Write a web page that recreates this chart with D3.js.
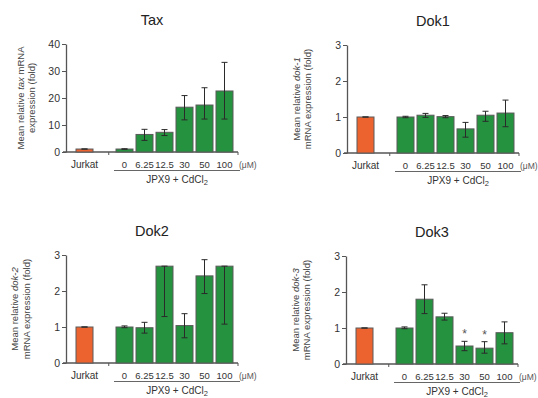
<!DOCTYPE html>
<head>
  <meta charset="utf8">
  <title>Tax / Dok expression</title>
  <script src="https://d3js.org/d3.v7.min.js"></script>
  <style>
    body { margin: 0; background: #fff; }
    svg text { font-family: "Liberation Sans", Arial, sans-serif; fill: #333; }
  </style>
</head>
<body>
<script>

  // categories on the x axis ("" is the empty slot between Jurkat and the JPX9 group)
  var categories = ["Jurkat", "", "0", "6.25", "12.5", "30", "50", "100"];

  // Tax
  var taxMean = [1.1, null, 1.1, 6.5, 7.3, 16.6, 17.4, 22.6];
  var taxLow  = [1.1, null, 1.0, 4.3, 6.1, 11.9, 12.2, 12.2];
  var taxHigh = [1.1, null, 1.2, 8.4, 8.3, 20.9, 23.8, 33.2];
  var taxTicks = [0, 10, 20, 30, 40];

  // Dok1
  var dok1Mean = [1.0, null, 1.0, 1.05, 1.01, 0.67, 1.05, 1.11];
  var dok1Low  = [1.0, null, 0.98, 0.99, 0.98, 0.44, 0.88, 0.73];
  var dok1High = [1.0, null, 1.02, 1.10, 1.04, 0.85, 1.16, 1.47];

  // Dok2 (12.5 and 100 bars are cut off at the top of the axis)
  var dok2Mean = [1.0, null, 1.0, 0.98, 2.69, 1.04, 2.42, 2.69];
  var dok2Low  = [1.0, null, 0.98, 0.83, 1.29, 0.70, 1.93, 1.08];
  var dok2High = [1.0, null, 1.03, 1.13, 2.69, 1.37, 2.87, 2.69];

  // Dok3
  var dok3Mean = [1.0, null, 1.0, 1.8, 1.31, 0.5, 0.44, 0.87];
  var dok3Low  = [1.0, null, 0.98, 1.4, 1.22, 0.37, 0.30, 0.56];
  var dok3High = [1.0, null, 1.03, 2.2, 1.41, 0.63, 0.62, 1.17];
  var dok3Sig  = ["", "", "", "", "", "*", "*", ""];

  var dokTicks = [0, 1, 2, 3];

  var W = 538, H = 398;
  var plotW = 172, plotH = 108;
  var green = "#24923f", orange = "#ec6330", edge = "#5a5a5a", axisCol = "#555";

  var svg = d3.select("body").append("svg")
      .attr("width", W)
      .attr("height", H);

  var panels = [
    { title: "Tax",  ox: 66,  oy: 44,  max: 40, ticks: taxTicks, mean: taxMean, low: taxLow, high: taxHigh,
      labelX: [-42, -31], lines: [["Mean relative ", "tax", " mRNA"], ["expression (fold)"]] },
    { title: "Dok1", ox: 347, oy: 45,  max: 3,  ticks: dokTicks, mean: dok1Mean, low: dok1Low, high: dok1High,
      labelX: [-47, -36], lines: [["Mean relative ", "dok-1", ""], ["mRNA expression (fold)"]] },
    { title: "Dok2", ox: 66,  oy: 255, max: 3,  ticks: dokTicks, mean: dok2Mean, low: dok2Low, high: dok2High,
      labelX: [-48, -36], lines: [["Mean relative ", "dok-2", ""], ["mRNA expression (fold)"]] },
    { title: "Dok3", ox: 346, oy: 256, max: 3,  ticks: dokTicks, mean: dok3Mean, low: dok3Low, high: dok3High,
      sig: dok3Sig, labelX: [-47, -36], lines: [["Mean relative ", "dok-3", ""], ["mRNA expression (fold)"]] }
  ];

  panels.forEach(drawPanel);

  function drawPanel(p) {
    var g = svg.append("g").attr("transform", "translate(" + p.ox + "," + p.oy + ")");

    var x = d3.scaleBand()
        .domain(categories)
        .range([8.5, 8.5 + 8 * 20])
        .paddingInner(0.15)
        .paddingOuter(0.075);

    var y = d3.scaleLinear()
        .domain([0, p.max])
        .range([plotH, 0]);

    // title
    g.append("text")
      .attr("x", plotW / 2)
      .attr("y", -19)
      .attr("text-anchor", "middle")
      .style("font-size", "14.5px")
      .style("fill", "#222")
      .text(p.title);

    // y axis
    var yAxis = g.append("g")
      .call(d3.axisLeft(y).tickValues(p.ticks).tickFormat(d3.format("d"))
        .tickSize(4).tickSizeOuter(0).tickPadding(2));
    yAxis.select(".domain").attr("stroke", axisCol).attr("stroke-width", 1.3);
    yAxis.selectAll(".tick line").attr("stroke", axisCol);
    yAxis.selectAll(".tick text")
      .style("font-size", "10.5px")
      .style("font-family", "'Liberation Sans', Arial, sans-serif")
      .attr("fill", "#333");

    // x axis line with small ticks
    g.append("line")
      .attr("x1", -3).attr("x2", plotW)
      .attr("y1", plotH).attr("y2", plotH)
      .attr("stroke", axisCol).attr("stroke-width", 1.3);
    var sepX = x("") + x.bandwidth() * 0.75;
    [sepX, plotW].forEach(function(t) {
      g.append("line")
        .attr("x1", t).attr("x2", t)
        .attr("y1", plotH).attr("y2", plotH + 3)
        .attr("stroke", axisCol).attr("stroke-width", 1);
    });

    var data = categories.map(function(c, i) {
      return { cat: c, mean: p.mean[i], low: p.low[i], high: p.high[i], sig: p.sig ? p.sig[i] : "" };
    }).filter(function(d) { return d.mean !== null; });

    // bars
    g.selectAll("rect.bar")
      .data(data)
      .enter().append("rect")
      .attr("class", "bar")
      .attr("x", function(d) { return x(d.cat); })
      .attr("width", x.bandwidth())
      .attr("y", function(d) { return y(d.mean); })
      .attr("height", function(d) { return plotH - y(d.mean); })
      .attr("fill", function(d) { return d.cat === "Jurkat" ? orange : green; })
      .attr("stroke", edge)
      .attr("stroke-width", 1);

    // error bars
    var cap = 3;
    var eb = g.selectAll("g.err")
      .data(data)
      .enter().append("g")
      .attr("class", "err")
      .attr("stroke", "#2a2a2a")
      .attr("stroke-width", 1);
    eb.append("line")
      .attr("x1", function(d) { return x(d.cat) + x.bandwidth() / 2; })
      .attr("x2", function(d) { return x(d.cat) + x.bandwidth() / 2; })
      .attr("y1", function(d) { return y(d.low); })
      .attr("y2", function(d) { return y(d.high); });
    eb.append("line")
      .attr("x1", function(d) { return x(d.cat) + x.bandwidth() / 2 - cap; })
      .attr("x2", function(d) { return x(d.cat) + x.bandwidth() / 2 + cap; })
      .attr("y1", function(d) { return y(d.high); })
      .attr("y2", function(d) { return y(d.high); });
    eb.append("line")
      .attr("x1", function(d) { return x(d.cat) + x.bandwidth() / 2 - cap; })
      .attr("x2", function(d) { return x(d.cat) + x.bandwidth() / 2 + cap; })
      .attr("y1", function(d) { return y(d.low); })
      .attr("y2", function(d) { return y(d.low); });

    // significance stars
    g.selectAll("text.sig")
      .data(data.filter(function(d) { return d.sig; }))
      .enter().append("text")
      .attr("class", "sig")
      .attr("x", function(d) { return x(d.cat) + x.bandwidth() / 2; })
      .attr("y", function(d) { return y(d.high) - 3; })
      .attr("text-anchor", "middle")
      .style("font-size", "12px")
      .style("fill", "#555")
      .text(function(d) { return d.sig; });

    // category labels
    g.selectAll("text.cat")
      .data(data)
      .enter().append("text")
      .attr("class", "cat")
      .attr("x", function(d) { return x(d.cat) + x.bandwidth() / 2; })
      .attr("y", plotH + 16)
      .attr("text-anchor", "middle")
      .style("font-size", function(d) { return d.cat === "Jurkat" ? "10px" : "9.5px"; })
      .text(function(d) { return d.cat; });

    g.append("text")
      .attr("x", plotW + 1)
      .attr("y", plotH + 16)
      .style("font-size", "8.5px")
      .style("fill", "#555")
      .text("(μM)");

    // group bracket
    g.append("line")
      .attr("x1", x("0") - 2).attr("x2", plotW + 2)
      .attr("y1", plotH + 18.5).attr("y2", plotH + 18.5)
      .attr("stroke", "#666").attr("stroke-width", 1);

    var grp = g.append("text")
      .attr("x", (x("0") + plotW) / 2)
      .attr("y", plotH + 31)
      .attr("text-anchor", "middle")
      .style("font-size", "10px");
    grp.append("tspan").text("JPX9 + CdCl");
    grp.append("tspan").attr("dy", 2).style("font-size", "7.5px").text("2");

    // y label (two lines, gene name italic)
    p.lines.forEach(function(parts, li) {
      var t = g.append("text")
        .attr("transform", "translate(" + p.labelX[li] + "," + (plotH / 2) + ") rotate(-90)")
        .attr("text-anchor", "middle")
        .style("font-size", "9.5px")
        .style("fill", "#444");
      parts.forEach(function(s, k) {
        var span = t.append("tspan").text(s);
        if (k === 1) span.style("font-style", "italic");
      });
    });
  }

</script>
</body>
